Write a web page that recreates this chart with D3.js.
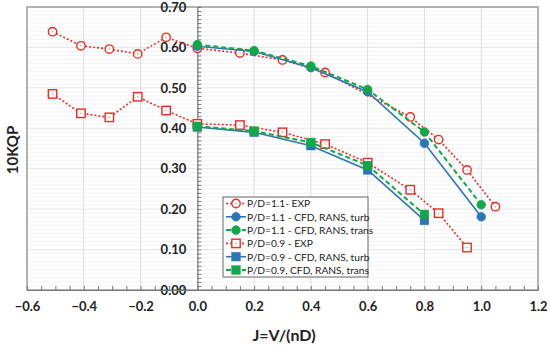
<!DOCTYPE html>
<html>
<head>
<meta charset="utf-8">
<script src="https://cdn.jsdelivr.net/npm/d3@7"></script>
<style>
  body { margin: 0; background: #fff; }
  svg text { font-family: Lato, "Open Sans", sans-serif; }
</style>
</head>
<body>
<svg id="chart"></svg>
<script>
// data
const exp11X = [-0.51, -0.41, -0.31, -0.21, -0.11, 0, 0.15, 0.3, 0.45, 0.75, 0.85, 0.95, 1.05];
const exp11Y = [0.639, 0.604, 0.596, 0.584, 0.625, 0.598, 0.586, 0.569, 0.538, 0.428, 0.372, 0.297, 0.206];
const cfd11X = [0, 0.2, 0.4, 0.6, 0.8, 1.0];
const turb11Y = [0.603, 0.590, 0.550, 0.490, 0.363, 0.181];
const trans11Y = [0.607, 0.592, 0.554, 0.496, 0.391, 0.211];
const exp09X = [-0.51, -0.41, -0.31, -0.21, -0.11, 0, 0.15, 0.3, 0.45, 0.6, 0.75, 0.85, 0.95];
const exp09Y = [0.485, 0.437, 0.427, 0.478, 0.444, 0.411, 0.408, 0.390, 0.361, 0.315, 0.248, 0.190, 0.105];
const cfd09X = [0, 0.2, 0.4, 0.6, 0.8];
const turb09Y = [0.403, 0.390, 0.357, 0.297, 0.172];
const trans09Y = [0.405, 0.393, 0.365, 0.308, 0.187];
const xTicks = [-0.6, -0.4, -0.2, 0, 0.2, 0.4, 0.6, 0.8, 1.0, 1.2];
const yTicks = [0, 0.1, 0.2, 0.3, 0.4, 0.5, 0.6, 0.7];

const width = 550, height = 346;
const svg = d3.select("#chart").attr("width", width).attr("height", height);

const x = d3.scaleLinear().domain([-0.6, 1.2]).range([27, 538]);
const y = d3.scaleLinear().domain([0, 0.7]).range([290, 7]);

const RED = "#ee2a24", BLUE = "#2e75b6", GREEN = "#12a84a";

const series = [
  {name: "P/D=1.1- EXP", xs: exp11X, ys: exp11Y, color: RED, dash: "2,2", w: 1.6, shape: "circle", open: true},
  {name: "P/D=1.1 - CFD, RANS, turb", xs: cfd11X, ys: turb11Y, color: BLUE, dash: null, w: 1.6, shape: "circle", open: false},
  {name: "P/D=1.1 - CFD, RANS, trans", xs: cfd11X, ys: trans11Y, color: GREEN, dash: "5,3", w: 2, shape: "circle", open: false},
  {name: "P/D=0.9 - EXP", xs: exp09X, ys: exp09Y, color: RED, dash: "2,2", w: 1.6, shape: "square", open: true},
  {name: "P/D=0.9 - CFD, RANS, turb", xs: cfd09X, ys: turb09Y, color: BLUE, dash: null, w: 1.6, shape: "square", open: false},
  {name: "P/D=0.9, CFD, RANS, trans", xs: cfd09X, ys: trans09Y, color: GREEN, dash: "5,3", w: 2, shape: "square", open: false}
];

// grid
const grid = svg.append("g");
grid.selectAll(".hmin").data(d3.range(1, 70).map(d => d / 100)).enter().append("line")
  .attr("x1", x(-0.6)).attr("x2", x(1.2))
  .attr("y1", d => y(d)).attr("y2", d => y(d))
  .attr("stroke", d => Math.round(d * 100) % 10 === 0 ? "#e4e4e4" : "#f3f3f3").attr("stroke-width", 1);
grid.selectAll(".v").data(xTicks.filter(d => d !== 0 && d !== -0.6 && d !== 1.2)).enter().append("line")
  .attr("x1", d => x(d)).attr("x2", d => x(d))
  .attr("y1", y(0)).attr("y2", y(0.7))
  .attr("stroke", "#dcdcdc").attr("stroke-width", 1);

// frame
svg.append("rect").attr("x", x(-0.6)).attr("y", y(0.7))
  .attr("width", x(1.2) - x(-0.6)).attr("height", y(0) - y(0.7))
  .attr("fill", "none").attr("stroke", "#9a9a9a").attr("stroke-width", 1.5);

// y axis at x = 0
const yAxis = svg.append("g").attr("transform", `translate(${x(0)},0)`)
  .call(d3.axisLeft(y).tickValues(yTicks).tickSize(0).tickPadding(11).tickFormat(d3.format(".2f")));
yAxis.select(".domain").attr("stroke", "#777").attr("stroke-width", 1.2);
yAxis.selectAll("text").attr("font-size", 13).attr("font-weight", "bold").attr("fill", "#222");

const yMinor = svg.append("g").attr("transform", `translate(${x(0)},0)`)
  .call(d3.axisRight(y).tickValues(d3.range(0, 71).map(d => d / 100)).tickSize(4).tickFormat(""));
yMinor.select(".domain").remove();
yMinor.selectAll("line").attr("stroke", "#777");

// x axis at y = 0
const xAxis = svg.append("g").attr("transform", `translate(0,${y(0)})`)
  .call(d3.axisBottom(x).tickValues(xTicks).tickSize(0).tickPadding(12).tickFormat(d3.format(".1f")));
xAxis.select(".domain").attr("stroke", "#777").attr("stroke-width", 1.2);
xAxis.selectAll("text").attr("font-size", 13).attr("font-weight", "bold").attr("fill", "#222");

const xMinor = svg.append("g").attr("transform", `translate(0,${y(0)})`)
  .call(d3.axisTop(x).tickValues(d3.range(0, 37).map(d => -0.6 + d * 0.05)).tickSize(4).tickFormat(""));
xMinor.select(".domain").remove();
xMinor.selectAll("line").attr("stroke", "#777");

// titles
svg.append("text").attr("x", 284).attr("y", 341).attr("text-anchor", "middle")
  .attr("font-size", 16).attr("font-weight", "bold").attr("fill", "#222").text("J=V/(nD)");
svg.append("text").attr("transform", "translate(18,150) rotate(-90)").attr("text-anchor", "middle")
  .attr("font-size", 15).attr("font-weight", "bold").attr("fill", "#222").text("10KQP");

function drawMarker(g, s, cx, cy) {
  if (s.shape === "circle") {
    g.append("circle").attr("cx", cx).attr("cy", cy).attr("r", s.open ? 4.2 : 4.3)
      .attr("fill", s.open ? "#fff" : s.color).attr("stroke", s.color).attr("stroke-width", s.open ? 1.4 : 0.8);
  } else {
    const h = s.open ? 4.2 : 4.3;
    g.append("rect").attr("x", cx - h).attr("y", cy - h).attr("width", 2 * h).attr("height", 2 * h)
      .attr("fill", s.open ? "#fff" : s.color).attr("stroke", s.color).attr("stroke-width", s.open ? 1.4 : 0.5);
  }
  if (s.open) {
    g.append("circle").attr("cx", cx).attr("cy", cy).attr("r", 0.8).attr("fill", "#f09090");
  }
}

const line = d3.line().x(d => x(d[0])).y(d => y(d[1]));
series.forEach(s => {
  const pts = s.xs.map((v, i) => [v, s.ys[i]]);
  const g = svg.append("g");
  g.append("path").datum(pts).attr("d", line).attr("fill", "none")
    .attr("stroke", s.color).attr("stroke-width", s.w)
    .attr("stroke-dasharray", s.dash);
  pts.forEach(p => drawMarker(g, s, x(p[0]), y(p[1])));
});

// legend
const leg = svg.append("g").attr("transform", "translate(223,197)");
leg.append("rect").attr("width", 145).attr("height", 80)
  .attr("fill", "#fff").attr("stroke", "#666").attr("stroke-width", 1);
series.forEach((s, i) => {
  const cy = 6.5 + i * 13.3;
  const g = leg.append("g");
  g.append("line").attr("x1", 3).attr("x2", 23).attr("y1", cy).attr("y2", cy)
    .attr("stroke", s.color).attr("stroke-width", s.w).attr("stroke-dasharray", s.dash);
  drawMarker(g, Object.assign({}, s), 13, cy);
  g.append("text").attr("x", 24).attr("y", cy + 3.8).attr("font-size", 10.2).attr("fill", "#222").text(s.name);
});
</script>
</body>
</html>
